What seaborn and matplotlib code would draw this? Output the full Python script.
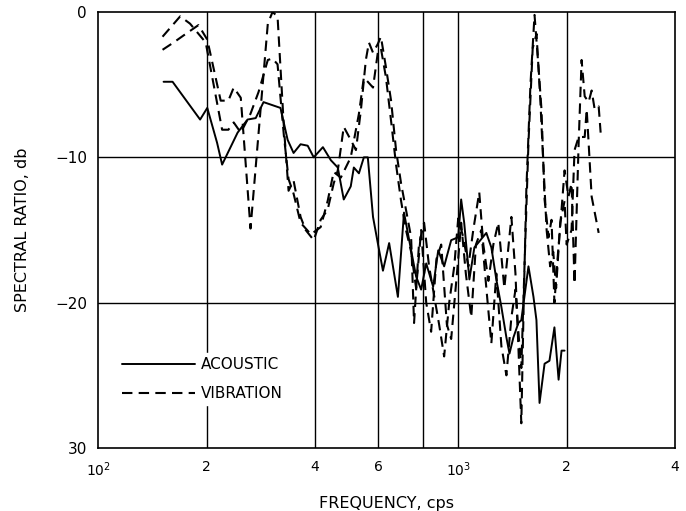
import matplotlib
matplotlib.use("Agg")
import matplotlib.pyplot as plt
import numpy as np
import pandas as pd
import seaborn as sns

# values (frequency in cps, ratio in db)
acoustic_freq = [152, 161, 192, 201, 214, 221, 244, 260, 274, 288, 321, 336, 349, 365, 382,
                 397, 421, 443, 463, 481, 503, 513, 530, 547, 561, 580, 598, 618, 643, 680,
                 707, 740, 764, 789, 815, 852, 880, 914, 956, 1000, 1019, 1039, 1074, 1109,
                 1197, 1236, 1276, 1318, 1361, 1388, 1423, 1469, 1497, 1567, 1618, 1649,
                 1682, 1737, 1792, 1850, 1900, 1936, 1974]
acoustic_db = [-4.8, -4.8, -7.4, -6.6, -9.0, -10.5, -8.3, -7.4, -7.3, -6.2, -6.6, -8.8, -9.7,
               -9.1, -9.2, -10.0, -9.3, -10.2, -10.7, -12.9, -12.0, -10.7, -11.1, -10.0, -10.0,
               -14.1, -15.9, -17.8, -15.9, -19.6, -13.8, -16.4, -18.2, -19.1, -17.3, -18.9,
               -16.4, -17.5, -15.7, -15.5, -12.9, -14.5, -18.4, -16.2, -15.2, -16.2, -18.4,
               -20.3, -22.4, -23.5, -22.4, -21.4, -21.2, -17.5, -19.6, -21.2, -26.9, -24.2,
               -24.0, -21.7, -25.3, -23.3, -23.3]

vib_a_freq = [151, 162, 173, 190, 201, 219, 230, 238, 249, 265, 296, 305, 315, 328, 338, 349,
              365, 377, 397, 415, 434, 451, 463, 481, 503, 520, 537, 554, 565, 580, 598, 610,
              630, 651, 672, 694, 716, 740, 754, 778, 804, 830, 857, 885, 914, 944, 975, 1000,
              1033, 1067, 1101, 1144, 1174, 1213, 1252, 1292, 1343, 1405, 1442, 1469, 1497,
              1520, 1546, 1587, 1629, 1671, 1703, 1737, 1782, 1816, 1850, 1887, 1936, 1974,
              2024, 2064, 2104, 2160, 2201, 2245, 2302, 2347, 2393, 2455, 2486]
vib_a_db = [-2.6, -2.1, -1.6, -0.9, -1.9, -6.1, -6.1, -5.2, -5.9, -14.9, -0.8, 0.0, -0.3,
            -7.9, -12.3, -11.6, -14.1, -15.0, -15.7, -14.3, -13.6, -11.8, -10.9, -7.9, -8.8,
            -9.5, -6.7, -3.3, -2.1, -2.8, -2.2, -1.7, -3.8, -6.1, -9.5, -11.8, -13.6, -15.5,
            -21.4, -16.0, -14.5, -17.5, -19.5, -21.5, -23.7, -20.0, -17.5, -14.2, -15.5,
            -17.5, -15.0, -12.4, -16.0, -18.5, -16.0, -14.5, -19.0, -14.1, -18.0, -23.0,
            -28.3, -20.0, -12.2, -5.0, -0.2, -3.8, -6.7, -12.9, -15.5, -14.3, -20.0, -17.0,
            -13.6, -10.9, -12.7, -11.8, -18.7, -9.0, -3.3, -5.8, -6.2, -5.4, -6.7, -6.5, -8.3]

vib_b_freq = [151, 169, 180, 199, 221, 230, 238, 249, 265, 279, 296, 305, 315, 328, 338, 349,
              365, 390, 415, 434, 451, 472, 503, 530, 547, 580, 598, 610, 630, 651, 672, 694,
              716, 740, 764, 789, 815, 841, 870, 897, 930, 956, 1000, 1019, 1050, 1087, 1120,
              1159, 1197, 1236, 1276, 1318, 1361, 1405, 1442, 1469, 1497, 1530, 1567, 1610,
              1650, 1690, 1720, 1760, 1800, 1836, 1870, 1920, 1974, 2000, 2064, 2104, 2160,
              2245, 2274, 2302, 2347, 2455]
vib_b_db = [-1.7, -0.3, -0.8, -2.1, -8.1, -8.1, -7.6, -8.3, -7.0, -5.5, -3.3, -3.2, -3.6,
            -8.5, -11.5, -12.5, -14.5, -15.3, -14.8, -13.0, -11.0, -11.4, -10.0, -7.0, -4.5,
            -5.2, -2.8, -2.5, -4.5, -7.5, -10.5, -13.0, -15.0, -16.5, -19.0, -15.0, -20.0,
            -22.0, -17.0, -16.0, -21.5, -22.5, -17.0, -14.5, -18.0, -21.0, -16.0, -15.0,
            -19.0, -22.8, -18.0, -23.0, -25.0, -21.0, -19.1, -22.0, -24.5, -17.0, -9.0,
            -2.5, -1.5, -6.0, -10.0, -15.0, -17.5, -16.5, -19.0, -14.5, -13.0, -16.0,
            -15.0, -9.5, -8.6, -8.6, -6.7, -9.0, -12.7, -15.2]

grid_x = [200, 400, 600, 800, 1000, 2000]
grid_y = [-10, -20]
xtick_pos = [100, 200, 400, 600, 1000, 2000, 4000]
xtick_labels = ["$10^2$", "2", "4", "6", "$10^3$", "2", "4"]
ytick_pos = [0, -10, -20, -30]
ytick_labels = ["0", "\u221210", "\u221220", "30"]

sns.set_style("white")
plt.rcParams["font.family"] = ["DejaVu Sans"]
plt.rcParams.update({"text.color": "black", "axes.labelcolor": "black",
                     "xtick.color": "black", "ytick.color": "black"})

fig = plt.figure(figsize=(6.86, 5.11), dpi=100)
ax = fig.add_axes([0.143, 0.1233, 0.841, 0.8532])

for gx in grid_x:
    ax.axvline(gx, color="black", linewidth=1.0, zorder=1)
for gy in grid_y:
    ax.axhline(gy, color="black", linewidth=1.0, zorder=1)

acoustic = pd.DataFrame({"freq": acoustic_freq, "db": acoustic_db})
vib_a = pd.DataFrame({"freq": vib_a_freq, "db": vib_a_db})
vib_b = pd.DataFrame({"freq": vib_b_freq, "db": vib_b_db})

sns.lineplot(data=acoustic, x="freq", y="db", ax=ax, color="black", linewidth=1.4,
             label="ACOUSTIC", zorder=3)
sns.lineplot(data=vib_a, x="freq", y="db", ax=ax, color="black", linewidth=1.5,
             label="VIBRATION", zorder=3)
sns.lineplot(data=vib_b, x="freq", y="db", ax=ax, color="black", linewidth=1.5,
             zorder=3)
for line in ax.get_lines()[-2:]:
    line.set_dashes((5, 3))

ax.set_xscale("log")
ax.set_xlim(100, 4000)
ax.set_ylim(-30, 0)
ax.set_xticks(xtick_pos)
ax.set_xticklabels(xtick_labels, fontsize=10)
ax.minorticks_off()
ax.set_yticks(ytick_pos)
ax.set_yticklabels(ytick_labels, fontsize=11)
ax.tick_params(axis="x", length=0, pad=9)
ax.tick_params(axis="y", length=0, pad=8)

for spine in ax.spines.values():
    spine.set_color("black")
    spine.set_linewidth(1.2)

ax.set_xlabel("FREQUENCY, cps", fontsize=11.5, labelpad=12)
ax.set_ylabel("SPECTRAL RATIO, db", fontsize=11.5, labelpad=18)

handles, labels = ax.get_legend_handles_labels()
leg = ax.legend(handles[:2], labels[:2], loc="lower left", bbox_to_anchor=(0.02, 0.08),
                frameon=True, fontsize=11, handlelength=4.8, handletextpad=0.4,
                labelspacing=0.9, borderpad=0.3)
leg.get_frame().set_edgecolor("white")
leg.get_frame().set_facecolor("white")
leg.get_frame().set_alpha(1.0)
leg.set_zorder(5)

fig.savefig("out.png", dpi=100)
